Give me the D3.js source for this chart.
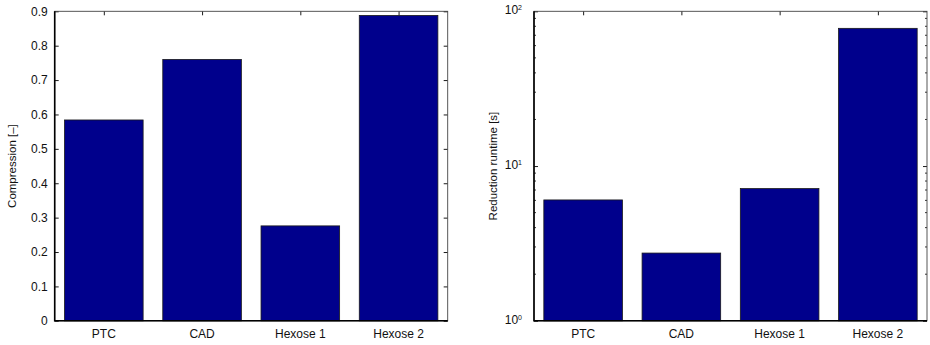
<!DOCTYPE html>
<html>
<head>
<meta charset="utf-8">
<script src="https://cdn.jsdelivr.net/npm/d3@7"></script>
<style>
  body { margin: 0; background: #fff; }
  svg { display: block; font-family: "Liberation Sans", Arial, sans-serif; }
</style>
</head>
<body>
<svg id="chart" width="930" height="345"></svg>
<script>
const categories = ['PTC', 'CAD', 'Hexose 1', 'Hexose 2'];
const compression = [0.584, 0.760, 0.276, 0.888];
const runtime = [6.04, 2.74, 7.15, 77.6];
const compressionTicks = [0, 0.1, 0.2, 0.3, 0.4, 0.5, 0.6, 0.7, 0.8, 0.9];
const runtimeTicks = [1, 10, 100];

const barFill = '#00008c';
const svg = d3.select('#chart');

// shared plot box size
const w = 393, h = 309.5;

function panel(left, top, values, yScale, yLabel, labelX, opts) {
  const g = svg.append('g').attr('transform', `translate(${left},${top})`);

  const x = d3.scaleBand()
      .domain(categories)
      .range([0, w])
      .paddingInner(0.2)
      .paddingOuter(0.1);

  // inward ticks, left + right
  const yl = g.append('g')
      .call(d3.axisLeft(yScale).tickValues(opts.ticks).tickSizeInner(-4).tickSizeOuter(0)
        .tickPadding(7).tickFormat(opts.fmt));
  g.append('g').attr('transform', `translate(${w},0)`)
      .call(d3.axisRight(yScale).tickValues(opts.ticks).tickSizeInner(-4).tickSizeOuter(0).tickFormat(''));

  if (opts.minor) {
    [0, w].forEach(xx => {
      g.append('g').selectAll('line')
        .data(opts.minor)
        .join('line')
        .attr('x1', xx)
        .attr('x2', xx === 0 ? 2 : w - 2)
        .attr('y1', d => yScale(d))
        .attr('y2', d => yScale(d))
        .attr('stroke', '#000')
        .attr('stroke-width', 0.8);
    });
  }

  // top ticks at bar centres
  const xc = d3.scalePoint().domain(categories).range([x(categories[0]) + x.bandwidth() / 2,
      x(categories[3]) + x.bandwidth() / 2]);
  g.append('g')
      .call(d3.axisTop(xc).tickSizeInner(-4).tickSizeOuter(0).tickFormat(''));

  g.selectAll('.domain').remove();
  g.selectAll('.tick line').attr('stroke', '#000').attr('stroke-width', 0.9);
  yl.selectAll('.tick text').attr('font-size', '12px').attr('fill', '#111');

  // bars
  g.append('g').selectAll('rect')
    .data(values)
    .join('rect')
    .attr('x', (d, i) => x(categories[i]))
    .attr('width', x.bandwidth())
    .attr('y', d => yScale(d))
    .attr('height', d => h - yScale(d))
    .attr('fill', barFill)
    .attr('stroke', '#1a1a1a')
    .attr('stroke-width', 0.8);

  // x labels
  g.append('g').selectAll('text')
    .data(categories)
    .join('text')
    .attr('x', d => x(d) + x.bandwidth() / 2)
    .attr('y', h + 17)
    .attr('text-anchor', 'middle')
    .attr('font-size', '12px')
    .attr('fill', '#111')
    .text(d => d);

  // frame
  g.append('rect')
    .attr('width', w).attr('height', h)
    .attr('fill', 'none')
    .attr('stroke', '#444')
    .attr('stroke-width', 0.9);
  g.append('path')
    .attr('d', `M0,0V${h}H${w}`)
    .attr('fill', 'none')
    .attr('stroke', '#000')
    .attr('stroke-width', 1.6);

  // y label
  svg.append('text')
    .attr('transform', `translate(${labelX},${top + h / 2}) rotate(-90)`)
    .attr('text-anchor', 'middle')
    .attr('dy', '0.35em')
    .attr('font-size', '11.5px')
    .attr('fill', '#111')
    .text(yLabel);

  return yl;
}

// left: compression
const y1 = d3.scaleLinear().domain([0, 0.9]).range([h, 0]);
panel(54.7, 11.3, compression, y1, 'Compression [–]', 11.5,
  { ticks: compressionTicks, fmt: d => d === 0 ? '0' : d3.format('.1f')(d) });

// right: runtime, log scale
const y2 = d3.scaleLog().domain([1, 100]).range([h, 0]);
const minorTicks = [];
[1, 10].forEach(p => { for (let k = 2; k <= 9; k++) minorTicks.push(p * k); });
const ylR = panel(534, 11.3, runtime, y2, 'Reduction runtime [s]', 492.5,
  { ticks: runtimeTicks, fmt: () => '', minor: minorTicks });

// powers of ten labels with superscripts
ylR.selectAll('.tick text').each(function(d) {
  const t = d3.select(this);
  t.text(null).attr('dy', '0.2em').attr('dx', '-5');
  t.append('tspan').text('10');
  t.append('tspan').attr('dy', '-0.55em').attr('font-size', '7px').text(Math.round(Math.log10(d)));
});
</script>
</body>
</html>
